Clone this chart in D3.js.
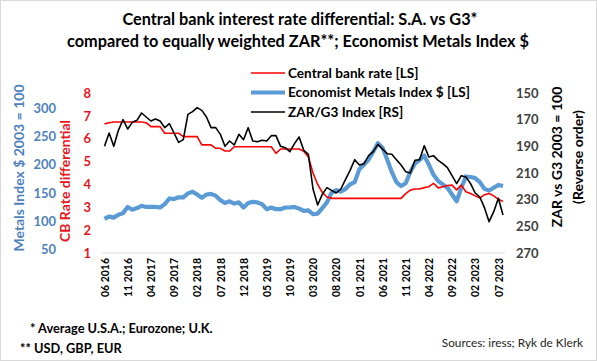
<!DOCTYPE html>
<html><head><meta charset="utf-8">
<script src="https://cdn.jsdelivr.net/npm/d3@7"></script>
<style>body{margin:0;background:#fff}svg{display:block}</style>
</head><body><svg id="c" width="597" height="361"></svg>
<script>
// ---- data ----
const startYear = 2016, startMonth = 6; // first monthly observation: 06 2016
const tickLabels = ["06 2016","11 2016","04 2017","09 2017","02 2018","07 2018","12 2018","05 2019","10 2019","03 2020","08 2020","01 2021","06 2021","11 2021","04 2022","09 2022","02 2023","07 2023"];
const redTicks = [1,2,3,4,5,6,7,8];
const blueTicks = [50,100,150,200,250,300];
const blackTicks = [150,170,190,210,230,250,270];
const cbRate = [6.65,6.7,6.73,6.73,6.73,6.73,6.73,6.73,6.73,6.7,
  6.53,6.53,6.53,6.24,6.24,6.24,6.24,6.09,6.09,6.09,
  6.09,5.73,5.73,5.73,5.58,5.58,5.46,5.46,5.65,5.65,
  5.65,5.65,5.65,5.65,5.65,5.65,5.65,5.36,5.55,5.55,
  5.55,5.55,5.55,5.45,5.2,4.5,4.0,3.65,3.45,3.39,
  3.39,3.39,3.39,3.39,3.39,3.39,3.39,3.39,3.39,3.39,
  3.39,3.39,3.39,3.39,3.39,3.6,3.75,3.8,3.8,3.86,
  3.9,4.05,3.85,3.9,3.95,3.97,3.76,3.97,3.68,3.6,
  3.5,3.4,3.55,3.6,3.5,3.35,3.25];
const metals = [107,111,109,114,117,128,123,126,130,128,
  128,128,127,133,143,142,145,145,152,155,
  150,144,150,151,148,140,135,138,134,136,
  127,135,137,136,133,124,127,124,124,127,
  127,128,125,121,122,115,116,126,136,153,
  158,155,160,168,172,195,203,212,226,241,
  233,212,190,172,165,170,190,205,211,219,
  203,185,174,168,162,150,138,162,182,181,
  179,172,160,157,162,167,165];
const zar = [190,180,190,178,170,177,172,170.5,165,168,
  171,169.5,171,176,173,180,187,185,166,164,
  161,163,168,176,176,181,190,186,189,181,
  185,176,186,186.5,185.5,186,182,182,190,191,
  194,188,183,193,196,222,234,226,221,223,
  225,222,215,208,200,204,203,197,194,188.5,
  192,195.5,196,200,204,209,210,200.5,200,189.5,
  198,197,200.5,203,206,212,218,212,213,218,
  225,228,236,246.5,239,229,241.5];

// ---- chart ----
const svg = d3.select("#c");
const F = "Lato, 'Open Sans', sans-serif";
svg.append("rect").attr("x",0.5).attr("y",0.5).attr("width",596).attr("height",360)
  .attr("fill","#fff").attr("stroke","#d9d9d9");

const months = cbRate.map((d,i)=>{
  const m = (startMonth-1+i)%12+1, y = startYear+Math.floor((startMonth-1+i)/12);
  return (m<10?"0":"")+m+" "+y;
});
const pTop=93, pBottom=253, pLeft=102, pRight=505;
const x = d3.scalePoint().domain(months).range([104.5,503]);
const yRed = d3.scaleLinear().domain([1,8]).range([pBottom,pTop]);
const yBlue = d3.scaleLinear().domain([46.3,330]).range([pBottom,pTop]);
const yBlack = d3.scaleLinear().domain([150,270]).range([pTop,pBottom]);

// title
const title = svg.append("text").attr("x",300).attr("font-family",F).attr("font-weight","bold")
  .attr("font-size",16.3).attr("text-anchor","middle").attr("fill","#000");
title.append("tspan").attr("x",300).attr("y",25).text("Central bank interest rate differential: S.A. vs G3*");
title.append("tspan").attr("x",298).attr("y",47).text("compared to equally weighted ZAR**; Economist Metals Index $");

// baseline
svg.append("line").attr("x1",pLeft).attr("x2",pRight).attr("y1",pBottom).attr("y2",pBottom)
  .attr("stroke","#d9d9d9").attr("stroke-width",1);

// x axis
const xAxis = d3.axisBottom(x).tickValues(tickLabels).tickSize(0).tickPadding(0);
const gx = svg.append("g").attr("transform",`translate(0,${pBottom})`).call(xAxis);
gx.select(".domain").remove();
gx.selectAll("text").attr("font-family",F).attr("font-weight","bold").attr("font-size",10.5)
  .attr("fill","#000").attr("transform","rotate(-90)").attr("text-anchor","end")
  .attr("x",-5).attr("y",0).attr("dy","0.35em");

// red axis
const gr = svg.append("g").attr("transform","translate(91,0)")
  .call(d3.axisLeft(yRed).tickValues(redTicks).tickFormat(d3.format("d")).tickSize(0).tickPadding(0));
gr.select(".domain").remove();
gr.selectAll("text").attr("font-family",F).attr("font-weight","bold").attr("font-size",13).attr("fill","#e8141b");

// blue axis
const gb = svg.append("g").attr("transform","translate(56,-1.5)")
  .call(d3.axisLeft(yBlue).tickValues(blueTicks).tickSize(0).tickPadding(0));
gb.select(".domain").remove();
gb.selectAll("text").attr("font-family",F).attr("font-weight","bold").attr("font-size",13).attr("fill","#4f81bd");

// black axis
const gk = svg.append("g").attr("transform","translate(516,0)")
  .call(d3.axisRight(yBlack).tickValues(blackTicks).tickSize(0).tickPadding(0));
gk.select(".domain").remove();
gk.selectAll("text").attr("font-family",F).attr("font-weight","bold").attr("font-size",13).attr("fill","#404040");

// axis titles
svg.append("text").attr("transform","translate(24,168) rotate(-90)").attr("text-anchor","middle")
  .attr("font-family",F).attr("font-weight","bold").attr("font-size",14).attr("fill","#4f81bd")
  .text("Metals Index $ 2003  = 100");
svg.append("text").attr("transform","translate(70,181) rotate(-90)").attr("text-anchor","middle")
  .attr("font-family",F).attr("font-weight","bold").attr("font-size",14).attr("fill","#e8141b")
  .text("CB Rate differential");
svg.append("text").attr("transform","translate(562,157) rotate(-90)").attr("text-anchor","middle")
  .attr("font-family",F).attr("font-weight","bold").attr("font-size",14).attr("fill","#000")
  .text("ZAR vs G3 2003 = 100");
svg.append("text").attr("transform","translate(583,157) rotate(-90)").attr("text-anchor","middle")
  .attr("font-family",F).attr("font-weight","bold").attr("font-size",14).attr("fill","#000")
  .text("(Reverse order)");

// lines
const lineRed = d3.line().x((d,i)=>x(months[i])).y(d=>yRed(d));
const lineBlue = d3.line().x((d,i)=>x(months[i])).y(d=>yBlue(d));
const lineBlack = d3.line().x((d,i)=>x(months[i])).y(d=>yBlack(d));
svg.append("path").datum(metals).attr("d",lineBlue).attr("fill","none").attr("stroke","#5b9bd5").attr("stroke-width",4.2).attr("stroke-linejoin","round");
svg.append("path").datum(cbRate).attr("d",lineRed).attr("fill","none").attr("stroke","#ff0000").attr("stroke-width",1.6).attr("stroke-linejoin","round");
svg.append("path").datum(zar).attr("d",lineBlack).attr("fill","none").attr("stroke","#000").attr("stroke-width",1.6).attr("stroke-linejoin","round");

// legend
const legend = [
  {label:"Central bank rate [LS]", color:"#ff0000", w:1.6, y:73},
  {label:"Economist Metals Index $ [LS]", color:"#5b9bd5", w:4.2, y:92.5},
  {label:"ZAR/G3 Index [RS]", color:"#000", w:1.6, y:112}
];
const lg = svg.append("g");
legend.forEach(l=>{
  lg.append("line").attr("x1",251).attr("x2",285).attr("y1",l.y).attr("y2",l.y).attr("stroke",l.color).attr("stroke-width",l.w);
  lg.append("text").attr("x",288).attr("y",l.y).attr("dy","0.35em").attr("font-family",F).attr("font-weight","bold")
    .attr("font-size",13.6).attr("fill","#000").text(l.label);
});

// footnotes
svg.append("text").attr("x",30).attr("y",333).attr("font-family",F).attr("font-weight","bold").attr("font-size",12.8).text("* Average U.S.A.; Eurozone; U.K.");
svg.append("text").attr("x",20).attr("y",353).attr("font-family",F).attr("font-weight","bold").attr("font-size",12.8).text("** USD, GBP, EUR");
svg.append("text").attr("x",583).attr("y",347).attr("text-anchor","end").attr("font-family",F).attr("font-size",11.8).attr("fill","#222").text("Sources: iress; Ryk de Klerk");
</script></body></html>
